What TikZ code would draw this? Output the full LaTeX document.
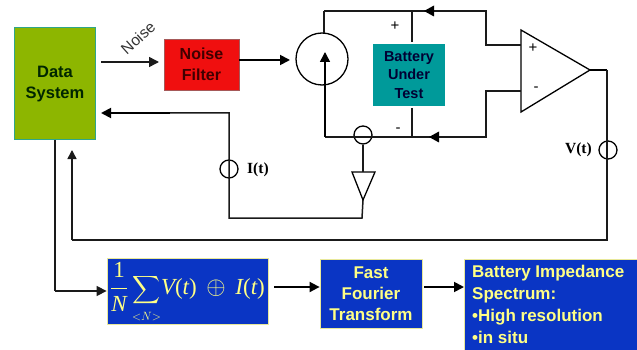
\documentclass[tikz,border=0pt]{standalone}
\usepackage{graphicx}
\usepackage{fontspec}
\usepackage{amsmath}
\setmainfont{Liberation Sans}
\newfontfamily\serifb{Liberation Serif}
\newcommand{\mvar}[1]{\text{\serifb\itshape #1}}
\newcommand{\mpar}[1]{\text{\serifb #1}}
\usetikzlibrary{arrows.meta}
\definecolor{dsgreen}{HTML}{8DB600}
\definecolor{dsedge}{HTML}{2FA58A}
\definecolor{nfred}{HTML}{F00F0F}
\definecolor{buteal}{HTML}{009A9A}
\definecolor{boxblue}{HTML}{0A35C4}
\definecolor{boxyellow}{HTML}{FFFF44}
\definecolor{boxedge}{HTML}{E8E89A}
\definecolor{wire}{HTML}{1A1A1A}
\tikzset{
  wirel/.style={draw=wire,line width=1.5pt},
  thick wire/.style={draw=black,line width=1.8pt},
  tip/.style={-{Triangle[length=10pt,width=10pt]}},
  midtip/.style={-{Triangle[length=10pt,width=10pt]}},
  box/.style={rectangle,minimum width=#1,inner sep=0pt,align=center},
  lab/.style={font=\fontsize{16.5}{21}\selectfont\bfseries,align=center},
  yl/.style={text=boxyellow!65!white},
  ring/.style={circle,draw=black,line width=1.3pt,minimum size=18pt,inner sep=0pt},
  tag/.style={font=\serifb\bfseries\fontsize{15.5}{17}\selectfont,inner sep=0pt},
  sign/.style={font=\fontsize{15}{15}\selectfont,inner sep=0pt}
}
\begin{document}
\begin{tikzpicture}[x=1pt,y=-1pt]
\useasboundingbox (0,0) rectangle (637,350);
% coordinates of the free ends and corners
\coordinate (tl) at (324,11); \coordinate (tr) at (486,11);
\coordinate (bl) at (325,137); \coordinate (br) at (486,137);
\coordinate (bat) at (412,137); \coordinate (batt) at (412,11);
% boxes
\node[box=81pt,minimum height=112pt,fill=dsgreen,draw=dsedge,line width=1pt] (ds) at (55,84) {};
\node[lab,text=black!85!green] at (55,84) {Data\\System};
\node[box=75pt,minimum height=51pt,fill=nfred,draw=gray!70!red,line width=.8pt,lab,text=black!75!red,font=\fontsize{16}{21}\selectfont\bfseries] (nf) at (201.5,64.5) {Noise\\Filter};
\node[box=72pt,minimum height=62pt,fill=buteal,lab,text=black!80!blue,font=\fontsize{14.5}{18.5}\selectfont\bfseries] (bt) at (409,75) {Battery\\Under\\Test};
\node[box=161pt,minimum height=66pt,fill=boxblue,draw=boxedge,line width=.8pt] (fm) at (187.5,291) {};
\node[yl,inner sep=0pt] at (187.5,293) {\fontsize{23}{27}\selectfont$\displaystyle\frac{\mpar{1}}{\mvar{N}}\mathop{\scalebox{.78}{$\displaystyle\sum$}}\limits_{\scriptscriptstyle <N>}\! \mvar{V}\mpar{(}\mvar{t}\mpar{)}\,\oplus\, \mvar{I}\mpar{(}\mvar{t}\mpar{)}$};
\node[box=102pt,minimum height=69pt,fill=boxblue,draw=boxedge,line width=.8pt,lab,yl,font=\fontsize{17}{21}\selectfont\bfseries] (ff) at (371,293.5) {Fast\\Fourier\\Transform};
\fill[boxblue] (464,259) rectangle (637,350);
\draw[boxedge,line width=.8pt] (464,350) -- (464,259) -- (637,259);
\coordinate (bi) at (464,287);
\node[lab,yl,align=left,anchor=north west,inner sep=0pt,font=\fontsize{17}{22}\selectfont\bfseries] (bl2) at (472,265) {Battery Impedance\\Spectrum:\\\textbullet High resolution\\\textbullet in situ};
% source and rings
\node[circle,draw=black,line width=1.3pt,minimum size=52pt,inner sep=0pt] (src) at (322,59) {};
\node[ring] (ri) at (363,135) {};
\node[ring] (ii) at (229,169) {};
\node[ring] (vv) at (608,150) {};
\node[tag,anchor=west] (ilab) at (247,170) {I(t)};
\node[tag,anchor=east] (vlab) at (592,150) {V(t)};
% op amp and buffer
\coordinate (oa1) at (521,30); \coordinate (oa2) at (521,112); \coordinate (oa3) at (590,70);
\draw[line width=1.3pt,line join=miter] (oa1) -- (oa3) -- (oa2) -- cycle;
\coordinate (b1) at (352,172); \coordinate (b2) at (375,172); \coordinate (b3) at (363,200);
\draw[line width=1.3pt] (b1) -- (b2) -- (b3) -- cycle;
% top-right wiring
\draw[wirel] (tl) -- (tr) -- (486,45) -- (521,45);
\draw[wirel] (tl) -- (324,33);
\draw[wirel] (bl) -- (br) -- (486,91) -- (521,91);
\draw[wirel] (batt) -- (412,42);
\draw[wirel] (412,108) -- (bat);
\draw[line width=1.5pt,midtip] (325,137) -- (325,52);
\fill[black] (424,11) -- (434,5.5) -- (434,16.5) -- cycle;
\fill[black] (429,137) -- (439,131.5) -- (439,142.5) -- cycle;
% output and V(t) feedback
\draw[line width=1.8pt] (oa3) -- (607,70);
\draw[wirel] (607,70) -- (607,240) -- (72,240);
\draw[wirel,-{Triangle[length=9pt,width=9pt]}] (72,240) -- (72,150);
% I(t) path
\draw[wirel] (ri) -- (b1 -| ri);
\draw[wirel] (b3) -- (362,218) -- (229,218) -- (229,113) -- (170,113);
\draw[thick wire,tip] (170,113) -- (101,113);
% noise path
\draw[wirel,tip] (101,62) -- (159,62);
\draw[thick wire,tip] (nf.east |- 0,60) -- (290,60);
\node[font=\fontsize{15.5}{15.5}\selectfont,rotate=42,text=black!80,inner sep=0pt] at (138,38) {Noise};
% lower path
\draw[wirel] (55,140) -- (55,291);
\draw[wirel,tip] (55,291) -- (fm.west);
\draw[thick wire,tip] (274,287) -- (ff.west |- 0,287);
\draw[thick wire,tip] (424,287) -- (bi);
% signs
\node[sign] at (395,26) {+};
\node[sign] at (398,130) {-};
\node[sign] at (533,48) {+};
\node[sign] at (536,89) {-};
\end{tikzpicture}
\end{document}
